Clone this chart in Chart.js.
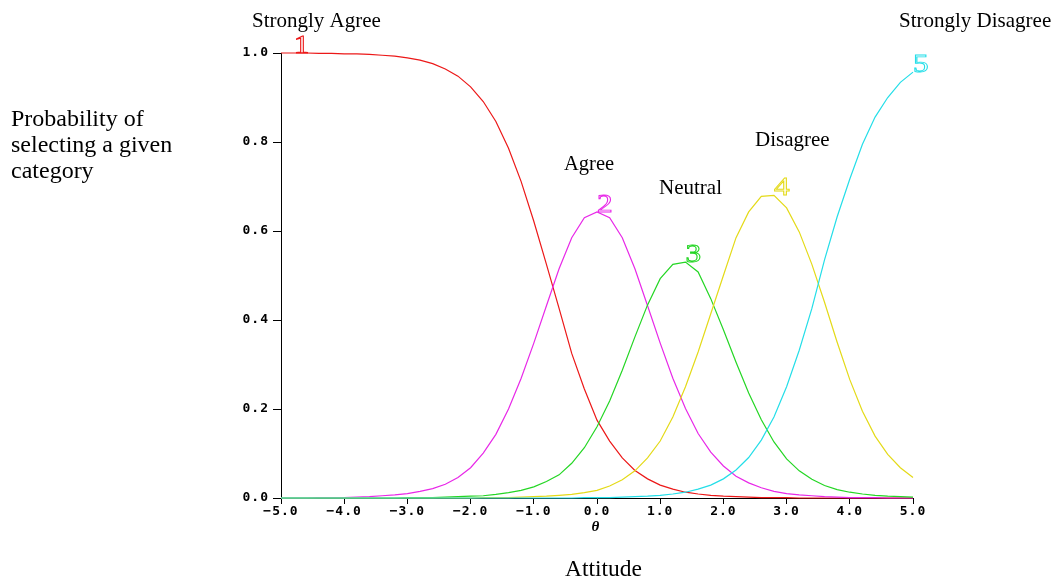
<!DOCTYPE html>
<html>
<head>
<meta charset="utf-8">
<script src="https://cdn.jsdelivr.net/npm/chart.js@4.4.1/dist/chart.umd.min.js"></script>
<style>
  html, body { margin: 0; padding: 0; background: #fff; overflow: hidden; }
  canvas { display: block; }
</style>
</head>
<body>
<canvas id="ccc" width="1057" height="584"></canvas>
<script>
// Ability scale (theta) at which the category probabilities are evaluated
const theta = [
  -5.0, -4.8, -4.6, -4.4, -4.2, -4.0, -3.8, -3.6, -3.4, -3.2,
  -3.0, -2.8, -2.6, -2.4, -2.2, -2.0, -1.8, -1.6, -1.4, -1.2,
  -1.0, -0.8, -0.6, -0.4, -0.2,  0.0,  0.2,  0.4,  0.6,  0.8,
   1.0,  1.2,  1.4,  1.6,  1.8,  2.0,  2.2,  2.4,  2.6,  2.8,
   3.0,  3.2,  3.4,  3.6,  3.8,  4.0,  4.2,  4.4,  4.6,  4.8,  5.0
];

// Probability of choosing each response category
const pStronglyAgree = [
  1.000, 1.000, 1.000, 0.999, 0.999, 0.998, 0.998, 0.997, 0.995, 0.993,
  0.989, 0.984, 0.976, 0.964, 0.948, 0.924, 0.891, 0.846, 0.786, 0.711,
  0.622, 0.525, 0.426, 0.325, 0.245, 0.175, 0.128, 0.090, 0.062, 0.043,
  0.029, 0.020, 0.013, 0.009, 0.006, 0.004, 0.003, 0.002, 0.001, 0.001,
  0.001, 0.000, 0.000, 0.000, 0.000, 0.000, 0.000, 0.000, 0.000, 0.000, 0.000
];
const pAgree = [
  0.000, 0.000, 0.000, 0.001, 0.001, 0.001, 0.002, 0.003, 0.005, 0.007,
  0.010, 0.015, 0.021, 0.031, 0.046, 0.068, 0.101, 0.143, 0.200, 0.269,
  0.348, 0.432, 0.515, 0.585, 0.630, 0.643, 0.630, 0.585, 0.515, 0.432,
  0.348, 0.269, 0.201, 0.145, 0.103, 0.072, 0.049, 0.034, 0.023, 0.015,
  0.010, 0.007, 0.005, 0.003, 0.002, 0.001, 0.001, 0.001, 0.000, 0.000, 0.000
];
const pNeutral = [
  0.000, 0.000, 0.000, 0.000, 0.000, 0.000, 0.000, 0.000, 0.000, 0.000,
  0.001, 0.001, 0.001, 0.002, 0.003, 0.004, 0.005, 0.008, 0.012, 0.017,
  0.025, 0.037, 0.052, 0.078, 0.113, 0.160, 0.218, 0.287, 0.362, 0.434,
  0.493, 0.525, 0.530, 0.508, 0.448, 0.378, 0.305, 0.236, 0.176, 0.126,
  0.088, 0.061, 0.042, 0.028, 0.019, 0.013, 0.009, 0.006, 0.004, 0.003, 0.002
];
const pDisagree = [
  0.000, 0.000, 0.000, 0.000, 0.000, 0.000, 0.000, 0.000, 0.000, 0.000,
  0.000, 0.000, 0.000, 0.000, 0.000, 0.000, 0.001, 0.001, 0.001, 0.002,
  0.003, 0.004, 0.006, 0.008, 0.012, 0.017, 0.027, 0.041, 0.061, 0.090,
  0.128, 0.182, 0.250, 0.328, 0.414, 0.500, 0.585, 0.643, 0.678, 0.680,
  0.652, 0.598, 0.525, 0.440, 0.350, 0.266, 0.195, 0.139, 0.098, 0.068, 0.046
];
const pStronglyDisagree = [
  0.000, 0.000, 0.000, 0.000, 0.000, 0.000, 0.000, 0.000, 0.000, 0.000,
  0.000, 0.000, 0.000, 0.000, 0.000, 0.000, 0.000, 0.000, 0.000, 0.000,
  0.000, 0.000, 0.000, 0.000, 0.001, 0.001, 0.001, 0.002, 0.003, 0.004,
  0.006, 0.009, 0.013, 0.020, 0.029, 0.043, 0.063, 0.091, 0.130, 0.182,
  0.250, 0.332, 0.426, 0.535, 0.632, 0.717, 0.795, 0.856, 0.900, 0.934, 0.957
];

const categoryNames = ['Strongly Agree', 'Agree', 'Neutral', 'Disagree', 'Strongly Disagree'];
const categoryNumbers = ['1', '2', '3', '4', '5'];
// data index each curve number is attached to
const numberAnchorIndex = [1, 25, 32, 39, 50];

const xTickLabels = ['\u22125.0', '\u22124.0', '\u22123.0', '\u22122.0', '\u22121.0', '0.0', '1.0', '2.0', '3.0', '4.0', '5.0'];
const yTickLabels = ['0.0', '0.2', '0.4', '0.6', '0.8', '1.0'];

const seriesColors = ['rgb(236,24,24)', 'rgb(232,40,232)', 'rgb(36,214,36)', 'rgb(228,218,24)', 'rgb(36,222,232)'];
const series = [pStronglyAgree, pAgree, pNeutral, pDisagree, pStronglyDisagree];

const tickFont = { family: '"DejaVu Sans Mono"', size: 13, weight: 'bold' };

// Wide spacing for the axis numerals, reset before the annotations
const tickSpacing = {
  id: 'tickSpacing',
  beforeDraw(chart) { chart.ctx.letterSpacing = '1px'; }
};

// Category captions, axis captions and curve numbers
const annotations = {
  id: 'annotations',
  afterDraw(chart) {
    const ctx = chart.ctx;
    ctx.save();
    ctx.letterSpacing = '0px';
    ctx.fillStyle = '#000';
    ctx.textAlign = 'left';
    ctx.textBaseline = 'alphabetic';

    ctx.font = '21px "Liberation Serif"';
    ctx.fillText('Strongly Agree', 252, 27);
    ctx.fillText('Strongly Disagree', 899, 27);
    ctx.fillText('Disagree', 755, 146);
    ctx.fillText('Neutral', 659, 194);
    ctx.font = '20.5px "Liberation Serif"';
    ctx.fillText('Agree', 564, 170);

    ctx.font = '24px "Liberation Serif"';
    ctx.fillText('Probability of', 11, 126);
    ctx.fillText('selecting a given', 11, 152);
    ctx.fillText('category', 11, 178);

    ctx.font = '23.5px "Liberation Serif"';
    ctx.fillText('Attitude', 565, 576);

    ctx.font = 'italic bold 15px "Liberation Serif"';
    ctx.textAlign = 'center';
    ctx.textBaseline = 'middle';
    ctx.fillText('\u03B8', 595.5, 527.5);

    ctx.textAlign = 'left';
    ctx.textBaseline = 'alphabetic';
    ctx.font = '25px "Liberation Serif"';
    ctx.lineWidth = 0.9;
    series.forEach((vals, k) => {
      const pt = chart.getDatasetMeta(k).data[numberAnchorIndex[k]];
      ctx.save();
      ctx.strokeStyle = seriesColors[k];
      ctx.translate(pt.x, pt.y);
      ctx.scale(1.25, 1);
      ctx.strokeText(categoryNumbers[k], 0, 0);
      ctx.restore();
    });
    ctx.restore();
  }
};

new Chart(document.getElementById('ccc'), {
  type: 'line',
  data: {
    datasets: series.map((vals, k) => ({
      label: categoryNames[k],
      data: theta.map((t, i) => ({ x: t, y: vals[i] })),
      borderColor: seriesColors[k],
      borderWidth: 1.2,
      pointRadius: 0,
      fill: false,
      tension: 0,
      clip: false,
      order: series.length - k
    }))
  },
  options: {
    responsive: false,
    animation: false,
    devicePixelRatio: 1,
    layout: { padding: { left: 0, right: 144, top: 53, bottom: 0 } },
    plugins: {
      legend: { display: false },
      tooltip: { enabled: false },
      title: { display: false }
    },
    scales: {
      x: {
        type: 'linear',
        min: -5,
        max: 5,
        afterFit(scale) { scale.height = 86; },
        ticks: {
          stepSize: 1,
          autoSkip: false,
          maxRotation: 0,
          minRotation: 0,
          padding: 0,
          color: '#000',
          font: tickFont,
          callback: (v) => xTickLabels[Math.round(v) + 5]
        },
        grid: { drawOnChartArea: false, drawTicks: true, tickLength: 6, color: '#000', lineWidth: 1 },
        border: { display: true, color: '#000', width: 1 }
      },
      y: {
        type: 'linear',
        min: 0,
        max: 1,
        afterFit(scale) { scale.width = 281; },
        ticks: {
          stepSize: 0.2,
          padding: 4,
          color: '#000',
          font: tickFont,
          callback: (v) => yTickLabels[Math.round(v * 5)]
        },
        grid: { drawOnChartArea: false, drawTicks: true, tickLength: 8, color: '#000', lineWidth: 1 },
        border: { display: true, color: '#000', width: 1 }
      }
    }
  },
  plugins: [tickSpacing, annotations]
});
</script>
</body>
</html>
